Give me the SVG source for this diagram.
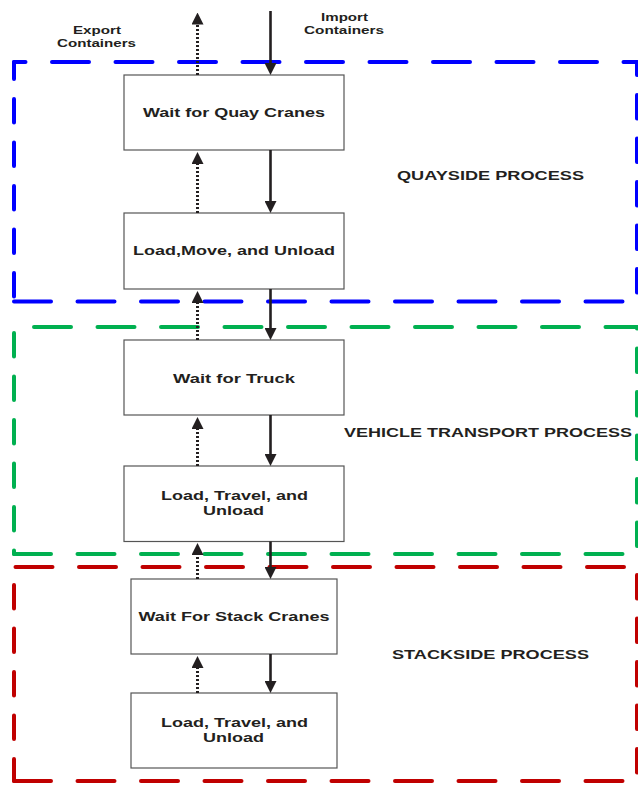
<svg xmlns="http://www.w3.org/2000/svg" width="638" height="785" viewBox="0 0 638 785">
  <style>
    .frame { fill: none; stroke-width: 4; stroke-linecap: round; }
    .h { stroke-dasharray: 37 26.5; }
    .v { stroke-dasharray: 23.5 20; }
    .blue { stroke: #0000FF; }
    .green { stroke: #00B050; }
    .red { stroke: #C00000; }
    .box { fill: #FFFFFF; stroke: #555555; stroke-width: 1.2; }
    text { font-family: "Liberation Sans", Arial, sans-serif; font-weight: bold; fill: #231F20; text-anchor: middle; }
    .lbl { font-size: 13.5px; }
    .proc { font-size: 12.5px; }
    .io { font-size: 11.5px; }
    .solid { stroke: #231F20; stroke-width: 2.6; fill: none; marker-end: url(#head); }
    .dotted { stroke: #231F20; stroke-width: 3; fill: none; stroke-dasharray: 2 2; marker-end: url(#head); }
  </style>
  <defs>
    <marker id="head" markerUnits="userSpaceOnUse" markerWidth="12" markerHeight="12" refX="0" refY="6" orient="auto">
      <path d="M0,0 L12,6 L0,12 Z" fill="#231F20"/>
    </marker>
  </defs>

  <!-- Process frames -->
  <g id="quayside-frame">
    <line class="frame h blue" x1="14" y1="62" x2="637" y2="62" stroke-dashoffset="25.5"/>
    <line class="frame h blue" x1="14" y1="301.5" x2="637" y2="301.5" stroke-dashoffset="0"/>
    <line class="frame v blue" x1="14" y1="62" x2="14" y2="301.5" stroke-dashoffset="6.5"/>
    <line class="frame v blue" x1="637" y1="62" x2="637" y2="301.5" stroke-dashoffset="10.5"/>
    <text class="proc" x="490.5" y="180" textLength="187" lengthAdjust="spacingAndGlyphs">QUAYSIDE PROCESS</text>
  </g>
  <g id="vehicle-frame">
    <line class="frame h green" x1="14" y1="327" x2="637" y2="327" stroke-dashoffset="43.5"/>
    <line class="frame h green" x1="14" y1="554" x2="637" y2="554" stroke-dashoffset="0"/>
    <line class="frame v green" x1="14" y1="327" x2="14" y2="554" stroke-dashoffset="37.5"/>
    <line class="frame v green" x1="637" y1="327" x2="637" y2="554" stroke-dashoffset="22"/>
    <text class="proc" x="488" y="437" textLength="288" lengthAdjust="spacingAndGlyphs">VEHICLE TRANSPORT PROCESS</text>
  </g>
  <g id="stackside-frame">
    <line class="frame h red" x1="14" y1="567" x2="637" y2="567" stroke-dashoffset="62"/>
    <line class="frame h red" x1="14" y1="781" x2="637" y2="781" stroke-dashoffset="0"/>
    <line class="frame v red" x1="14" y1="567" x2="14" y2="781" stroke-dashoffset="25.5"/>
    <line class="frame v red" x1="637" y1="567" x2="637" y2="781" stroke-dashoffset="35.5"/>
    <text class="proc" x="490.5" y="659" textLength="197" lengthAdjust="spacingAndGlyphs">STACKSIDE PROCESS</text>
  </g>

  <!-- Flow labels -->
  <g id="export-label">
    <text class="io" x="97" y="34" textLength="48" lengthAdjust="spacingAndGlyphs">Export</text>
    <text class="io" x="96.5" y="46.5" textLength="79" lengthAdjust="spacingAndGlyphs">Containers</text>
  </g>
  <g id="import-label">
    <text class="io" x="344.5" y="21" textLength="47" lengthAdjust="spacingAndGlyphs">Import</text>
    <text class="io" x="344" y="34" textLength="80" lengthAdjust="spacingAndGlyphs">Containers</text>
  </g>

  <!-- Process steps -->
  <g id="wait-quay-cranes">
    <rect class="box" x="124" y="75" width="220" height="75"/>
    <text class="lbl" x="234" y="117" textLength="182" lengthAdjust="spacingAndGlyphs">Wait for Quay Cranes</text>
  </g>
  <g id="quay-load-move-unload">
    <rect class="box" x="124" y="213" width="220" height="76"/>
    <text class="lbl" x="234" y="255" textLength="202" lengthAdjust="spacingAndGlyphs">Load,Move, and Unload</text>
  </g>
  <g id="wait-truck">
    <rect class="box" x="124" y="340" width="220" height="75"/>
    <text class="lbl" x="234" y="382.5" textLength="122" lengthAdjust="spacingAndGlyphs">Wait for Truck</text>
  </g>
  <g id="truck-load-travel-unload">
    <rect class="box" x="124" y="466" width="220" height="75.5"/>
    <text class="lbl" x="234.5" y="500" textLength="147" lengthAdjust="spacingAndGlyphs">Load, Travel, and</text>
    <text class="lbl" x="233.5" y="515" textLength="61" lengthAdjust="spacingAndGlyphs">Unload</text>
  </g>
  <g id="wait-stack-cranes">
    <rect class="box" x="131" y="579" width="206" height="75"/>
    <text class="lbl" x="234" y="621" textLength="191" lengthAdjust="spacingAndGlyphs">Wait For Stack Cranes</text>
  </g>
  <g id="stack-load-travel-unload">
    <rect class="box" x="131" y="693" width="206" height="75"/>
    <text class="lbl" x="234.5" y="727" textLength="147" lengthAdjust="spacingAndGlyphs">Load, Travel, and</text>
    <text class="lbl" x="233.5" y="742" textLength="61" lengthAdjust="spacingAndGlyphs">Unload</text>
  </g>

  <!-- Connectors: import flow (solid, down) and export flow (dotted, up) -->
  <g id="connectors">
    <line class="solid" x1="270.5" y1="11" x2="270.5" y2="63"/>
    <line class="solid" x1="270.5" y1="150" x2="270.5" y2="201"/>
    <line class="solid" x1="270.5" y1="289" x2="270.5" y2="328"/>
    <line class="solid" x1="270.5" y1="415" x2="270.5" y2="454"/>
    <line class="solid" x1="270.5" y1="541.5" x2="270.5" y2="567"/>
    <line class="solid" x1="270.5" y1="654" x2="270.5" y2="681"/>

    <line class="dotted" x1="197.5" y1="75" x2="197.5" y2="24.5"/>
    <line class="dotted" x1="197.5" y1="213" x2="197.5" y2="164"/>
    <line class="dotted" x1="197.5" y1="340" x2="197.5" y2="303"/>
    <line class="dotted" x1="197.5" y1="466" x2="197.5" y2="429"/>
    <line class="dotted" x1="197.5" y1="579" x2="197.5" y2="555"/>
    <line class="dotted" x1="197.5" y1="693" x2="197.5" y2="668"/>
  </g>
</svg>
